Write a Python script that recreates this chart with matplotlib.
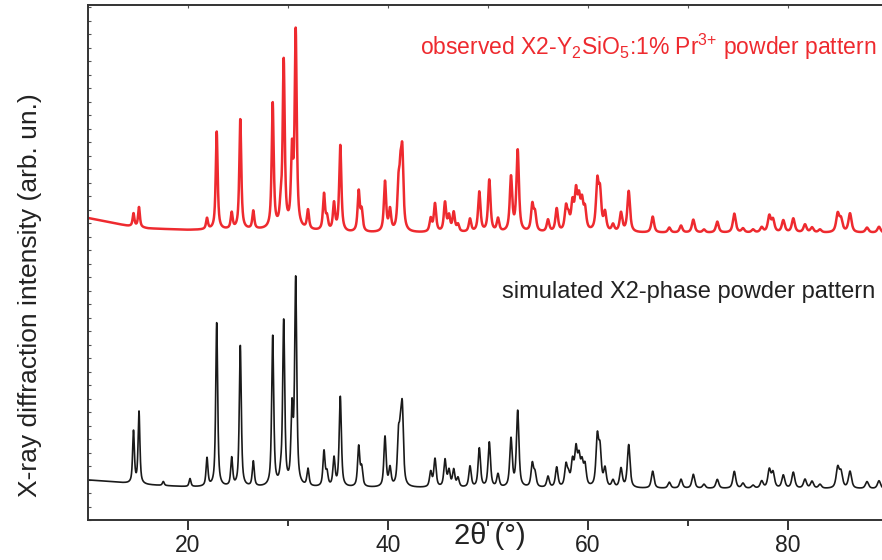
import numpy as np
import matplotlib
matplotlib.use("Agg")
import matplotlib.pyplot as plt
from matplotlib.ticker import FixedLocator, MultipleLocator, NullFormatter

plt.rcParams["font.family"] = ["Liberation Sans", "DejaVu Sans"]
plt.rcParams["mathtext.fontset"] = "custom"
plt.rcParams["mathtext.rm"] = "Liberation Sans"
plt.rcParams["mathtext.it"] = "Liberation Sans:italic"

# Reflection positions (2theta, degrees)
peak_pos = [14.55, 15.10, 17.53, 20.20, 21.90, 22.87, 24.37, 25.23, 26.53, 28.47,
            29.27, 29.57, 30.40, 30.77, 32.00, 33.60, 33.90, 34.60, 35.23, 37.07,
            37.37, 39.70, 40.20, 41.05, 41.25, 41.43, 44.27, 44.70, 45.70, 46.10,
            46.57, 47.00, 48.20, 49.13, 50.13, 51.00, 52.30, 52.97, 54.43, 54.70,
            56.00, 56.87, 57.80, 58.05, 58.45, 58.80, 59.10, 59.40, 59.70, 60.93,
            61.20, 61.70, 62.50, 63.30, 64.07, 66.47, 68.13, 69.30, 70.53, 71.60,
            72.93, 74.63, 75.50, 76.50, 77.37, 78.13, 78.50, 79.53, 80.53, 81.70,
            82.40, 83.20, 84.97, 85.30, 86.20, 87.90, 89.10]

# Simulated X2-phase intensities (arb. un.)
sim_height = [52, 72, 4, 8, 28, 164, 28, 141, 25, 150,
              8, 164, 72, 205, 17, 35, 13, 28, 90, 40,
              18, 50, 18, 45, 40, 70, 15, 28, 27, 16,
              17, 9, 21, 39, 45, 13, 48, 76, 23, 13,
              11, 20, 21, 10, 24, 35, 26, 21, 20, 48,
              35, 18, 7, 19, 43, 17, 6, 9, 14, 4,
              9, 17, 5, 3, 7, 18, 15, 13, 16, 9,
              7, 4, 20, 15, 17, 7, 8]

# Observed X2-Y2SiO5:1% Pr3+ intensities (arb. un.)
obs_height = [13, 20, 0, 0, 11, 98, 16, 110, 18, 125,
              18, 166, 72, 195, 19, 36, 12, 27, 86, 40,
              20, 50, 21, 40, 45, 70, 13, 28, 29, 15,
              19, 7, 13, 40, 52, 13, 54, 81, 26, 17,
              12, 23, 23, 12, 26, 36, 28, 26, 20, 47,
              36, 18, 7, 19, 41, 16, 5, 7, 13, 3,
              11, 19, 4, 3, 5, 16, 12, 12, 14, 8,
              5, 3, 18, 12, 19, 5, 6]

# Background levels (2theta, arb. un.)
sim_bg_x = [10, 12, 14, 16, 18, 20, 25, 60, 90]
sim_bg_y = [8, 6.5, 4.5, 3, 2, 1, 0.5, -0.5, -1]
obs_bg_x = [10, 12, 14, 16, 20, 30, 36, 90]
obs_bg_y = [15, 11, 7, 4.5, 3, 3, 0, 0]

sim_offset = 32
obs_offset = 287

tth = np.linspace(10, 89.4, 8000)


def profile(x, centers, heights, eta=0.75):
    y = np.zeros_like(x)
    for c, h in zip(centers, heights):
        fwhm = 0.20 + 0.0022 * (c - 10)
        g = np.exp(-4 * np.log(2) * ((x - c) / fwhm) ** 2)
        lor = 1.0 / (1.0 + 4 * ((x - c) / fwhm) ** 2)
        y += h * (eta * lor + (1 - eta) * g)
    return y


sim = profile(tth, peak_pos, sim_height, eta=0.7) + np.interp(tth, sim_bg_x, sim_bg_y)
obs = profile(tth, peak_pos, obs_height, eta=0.8) + np.interp(tth, obs_bg_x, obs_bg_y)

fig = plt.figure(figsize=(8.82, 5.6), dpi=100)
ax = fig.add_axes([88 / 882, 40 / 560, 1 - 88 / 882, 515 / 560])

ax.plot(tth, sim + sim_offset, color="#1a1a1a", lw=1.2)
ax.plot(tth, obs + obs_offset, color="#ee2a2f", lw=1.8)

ax.set_xlim(10, 89.4)
ax.set_ylim(0, 515)

for s in ["left", "bottom", "top"]:
    ax.spines[s].set_color("#333333")
    ax.spines[s].set_linewidth(1.4)
ax.spines["right"].set_visible(False)

ax.xaxis.set_major_locator(FixedLocator([20, 40, 60, 80]))
ax.xaxis.set_minor_locator(FixedLocator([30, 50, 70]))
ax.tick_params(axis="x", which="major", direction="out", length=7, width=1.4,
               color="#333333", labelsize=16.5, pad=3, top=False, labelcolor="#222222")
ax.tick_params(axis="x", which="minor", direction="out", length=4, width=1.4,
               color="#333333", top=False)
ax.yaxis.set_major_locator(MultipleLocator(13.5))
ax.yaxis.set_major_formatter(NullFormatter())
ax.tick_params(axis="y", which="major", direction="in", length=2, width=0.8,
               color="#555555")

# small inward ticks along the top frame
top = ax.secondary_xaxis("top")
top.set_xticks([20, 30, 40, 50, 60, 70, 80])
top.tick_params(direction="in", length=2, width=0.8, color="#555555", labeltop=False)
top.spines["top"].set_visible(False)

fig.text(490 / 882, 1 - 536 / 560, "2θ (°)", fontsize=21, ha="center", va="center",
         color="#222222")
fig.text(30 / 882, 1 - 295 / 560, "X-ray diffraction intensity (arb. un.)",
         fontsize=19, rotation=90, ha="center", va="center", color="#222222")

ax.text(0.993, 1 - 42 / 515,
        r"observed X2-Y$_2$SiO$_5$:1% Pr$^{3{+}}$ powder pattern",
        transform=ax.transAxes, fontsize=16.5, color="#ee2a2f", ha="right", va="center")
ax.text(0.992, 1 - 287 / 515, "simulated X2-phase powder pattern",
        transform=ax.transAxes, fontsize=17, color="#222222", ha="right", va="center")

fig.savefig("out.png", dpi=100)
